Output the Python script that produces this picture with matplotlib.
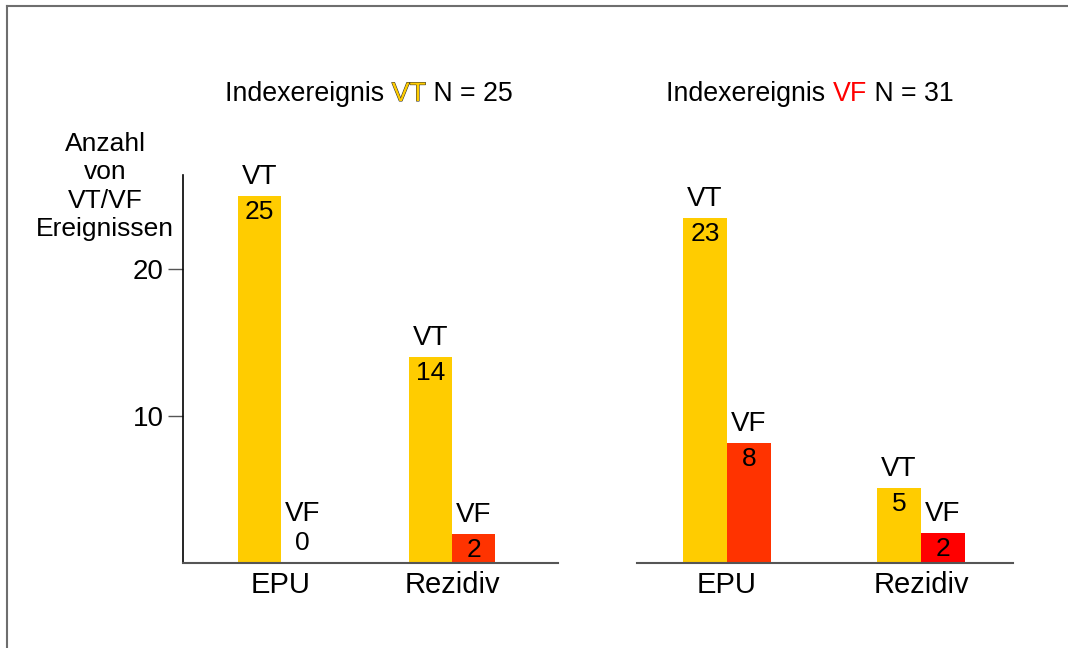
import matplotlib
matplotlib.use("Agg")
import matplotlib.pyplot as plt
from matplotlib.lines import Line2D
import matplotlib.patheffects as pe

plt.rcParams['font.family'] = ['Liberation Sans', 'DejaVu Sans']

# ---- data ----
categories = ["EPU", "Rezidiv"]
series_names = ["VT", "VF"]
left_title_event = "VT"
left_n = 25
right_title_event = "VF"
right_n = 31
left_vt = [25, 14]
left_vf = [0, 2]
right_vt = [23, 5]
right_vf = [8, 2]
yticks = [10, 20]
ylabel = "Anzahl\nvon\nVT/VF\nEreignissen"

# ---- styles ----
c_vt = "#FFCC00"
c_vf_left = ["#FF3300", "#FF3300"]
c_vf_right = ["#FF3300", "#FF0000"]
W, H = 1068, 648
fig = plt.figure(figsize=(W / 100, H / 100), dpi=100)

def px_axes(x0, x1, y_top, y_bot):
    return fig.add_axes([x0 / W, 1 - y_bot / H, (x1 - x0) / W, (y_bot - y_top) / H])

ax1 = px_axes(183, 558, 175, 563)
ax2 = px_axes(637, 1013, 175, 563)

def draw_panel(ax, vt, vf, vf_colors, width, xlim, ytop):
    x = list(range(len(categories)))
    b1 = ax.bar([i - width / 2 for i in x], vt, width, color=c_vt, linewidth=0)
    b2 = ax.bar([i + width / 2 for i in x], vf, width, color=vf_colors, linewidth=0)
    for bars, vals, name in ((b1, vt, "VT"), (b2, vf, "VF")):
        for rect, v in zip(bars, vals):
            cx = rect.get_x() + rect.get_width() / 2
            if v == 0:
                ax.annotate(str(v), (cx, 0), xytext=(0, 8), textcoords="offset pixels",
                            ha="center", va="bottom", fontsize=19)
                ax.annotate(name, (cx, 0), xytext=(0, 36), textcoords="offset pixels",
                            ha="center", va="bottom", fontsize=20)
            else:
                ax.annotate(str(v), (cx, v), xytext=(0, -4), textcoords="offset pixels",
                            ha="center", va="top", fontsize=19)
                ax.annotate(name, (cx, v), xytext=(0, 6), textcoords="offset pixels",
                            ha="center", va="bottom", fontsize=20)
    ax.set_ylim(0, ytop)
    ax.set_xlim(*xlim)
    ax.set_xticks(x)
    ax.set_xticklabels(categories, fontsize=21)
    ax.tick_params(axis="x", length=0, pad=6)
    for s in ("top", "right"):
        ax.spines[s].set_visible(False)
    ax.spines["bottom"].set_color("#555555")
    ax.spines["bottom"].set_linewidth(1.5)

draw_panel(ax1, left_vt, left_vf, c_vf_left, 0.254, (-0.573, 1.62), 26.4)
draw_panel(ax2, right_vt, right_vf, c_vf_right, 0.227, (-0.464, 1.474), 25.9)

ax1.set_yticks(yticks)
ax1.set_yticklabels([str(t) for t in yticks], fontsize=20)
ax1.tick_params(axis="y", length=11, width=1, color="#555555", pad=3)
ax1.spines["left"].set_color("black")
ax1.spines["left"].set_linewidth(1.2)

ax2.spines["left"].set_visible(False)
ax2.set_yticks([])

fig.text(105 / W, 1 - 132 / H, ylabel, ha="center", va="top", fontsize=19, linespacing=1.23)

# titles made of three pieces
def title(cx_px, y_px, event, n, color, outline):
    fig.canvas.draw()
    r = fig.canvas.get_renderer()
    parts = [("Indexereignis ", "black", False), (event, color, outline), (f" N = {n}", "black", False)]
    texts = []
    widths = []
    for s, c, o in parts:
        t = fig.text(0, 0, s, fontsize=19.3, color=c, ha="left", va="baseline")
        if o:
            t.set_path_effects([pe.Stroke(linewidth=0.8, foreground="#333333"), pe.Normal()])
        texts.append(t)
        widths.append(t.get_window_extent(renderer=r).width)
    total = sum(widths)
    x = cx_px - total / 2
    for t, w in zip(texts, widths):
        t.set_position((x / W, 1 - y_px / H))
        x += w

title(369, 101, left_title_event, left_n, c_vt, True)
title(810, 101, right_title_event, right_n, "#FF0000", False)

# figure frame (only top and left visible)
fig.add_artist(Line2D([7 / W, 7 / W], [1 - 6 / H, 0], transform=fig.transFigure, color="#6e6e6e", lw=1.5))
fig.add_artist(Line2D([7 / W, 1], [1 - 6 / H, 1 - 6 / H], transform=fig.transFigure, color="#6e6e6e", lw=1.5))

fig.savefig("out.png", dpi=100)
